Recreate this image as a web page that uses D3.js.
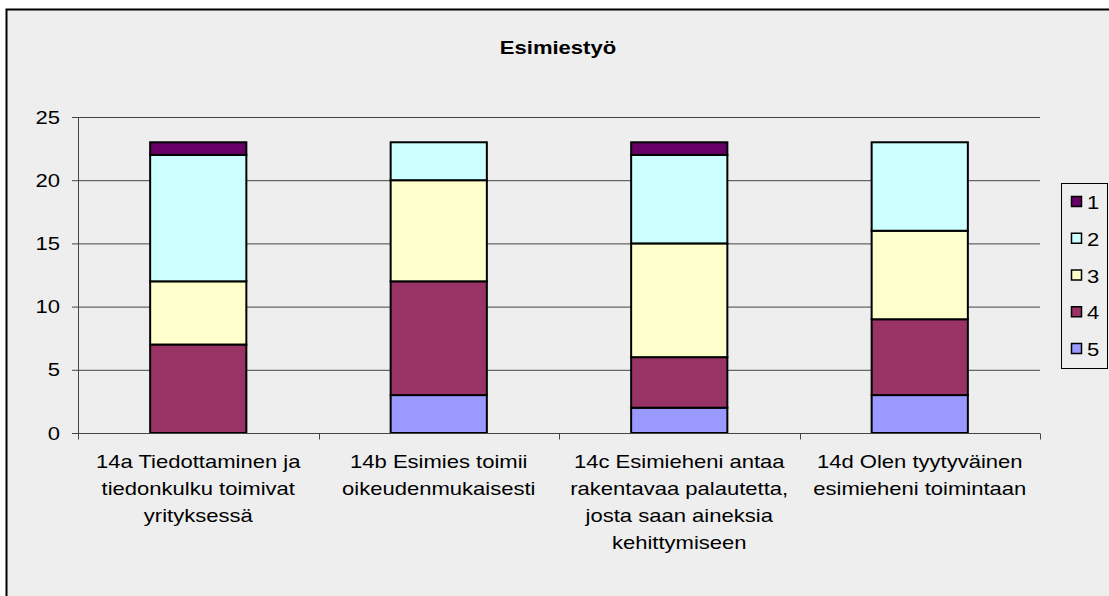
<!DOCTYPE html>
<html>
<head>
<meta charset="utf-8">
<script src="https://cdn.jsdelivr.net/npm/d3@7"></script>
<style>
  body { margin: 0; background: #fff; }
  text { font-family: "Liberation Sans", Arial, sans-serif; fill: #000; }
</style>
</head>
<body>
<svg id="chart" width="1109" height="596"></svg>
<script>
const categories = [
    ['14a Tiedottaminen ja', 'tiedonkulku toimivat', 'yrityksessä'],
    ['14b Esimies toimii', 'oikeudenmukaisesti'],
    ['14c Esimieheni antaa', 'rakentavaa palautetta,', 'josta saan aineksia', 'kehittymiseen'],
    ['14d Olen tyytyväinen', 'esimieheni toimintaan']
];
const seriesNames = ['5', '4', '3', '2', '1'];   // bottom to top
const values1 = [1, 0, 1, 0];
const values2 = [10, 3, 7, 7];
const values3 = [5, 8, 9, 7];
const values4 = [7, 9, 4, 6];
const values5 = [0, 3, 2, 3];
const colors = { '1': '#660066', '2': '#CCFFFF', '3': '#FFFFCC', '4': '#993366', '5': '#9999FF' };
const yTicks = [0, 5, 10, 15, 20, 25];
const title = 'Esimiestyö';

const stretchX = 1.16;  // the reference text is drawn wide
const svg = d3.select('#chart');

// chart frame
svg.append('rect')
    .attr('x', 6.5).attr('y', 9.5)
    .attr('width', 1200).attr('height', 700)
    .attr('fill', '#eeeeee')
    .attr('stroke', '#000').attr('stroke-width', 2);

const margin = { left: 78, top: 117, right: 1040, bottom: 433 };

const table = categories.map((c, i) => ({
    key: i,
    '1': values1[i], '2': values2[i], '3': values3[i], '4': values4[i], '5': values5[i]
}));

const stack = d3.stack().keys(seriesNames)(table);

const x = d3.scaleBand()
    .domain(d3.range(categories.length))
    .range([margin.left, margin.right])
    .paddingInner(0.6).paddingOuter(0.3);

const xOuter = d3.scaleBand()
    .domain(d3.range(categories.length))
    .range([margin.left, margin.right]);

const y = d3.scaleLinear().domain([0, 25]).range([margin.bottom, margin.top]);

// gridlines + y axis
const yAxis = svg.append('g')
    .attr('transform', `translate(${margin.left},0)`)
    .call(d3.axisLeft(y).tickValues(yTicks).tickSize(-(margin.right - margin.left)));
yAxis.select('.domain').remove();
yAxis.selectAll('.tick line').attr('stroke', '#444').attr('x1', -6);
yAxis.selectAll('.tick text')
    .attr('font-size', 19).attr('fill', '#000')
    .attr('x', 0)
    .attr('transform', `translate(-18,0) scale(${stretchX},1)`)
    .style('font-family', '"Liberation Sans", Arial, sans-serif');
svg.append('line')
    .attr('x1', margin.left + 0.5).attr('x2', margin.left + 0.5)
    .attr('y1', margin.top).attr('y2', margin.bottom + 6)
    .attr('stroke', '#444');

// bars
svg.append('g').selectAll('g').data(stack).join('g')
    .attr('fill', d => colors[d.key])
    .selectAll('rect').data(d => d.filter(s => s[1] > s[0])).join('rect')
        .attr('x', d => x(d.data.key))
        .attr('y', d => y(d[1]))
        .attr('width', x.bandwidth())
        .attr('height', d => y(d[0]) - y(d[1]))
        .attr('stroke', '#000')
        .attr('stroke-width', 2);

// x axis
const xAxisG = svg.append('g').attr('transform', `translate(0,${margin.bottom + 0.5})`);
xAxisG.append('line')
    .attr('x1', margin.left).attr('x2', margin.right)
    .attr('stroke', '#444');
xAxisG.selectAll('line.tick').data(d3.range(categories.length + 1)).join('line')
    .attr('class', 'tick')
    .attr('x1', i => Math.round(margin.left + i * xOuter.step()) + 0.5)
    .attr('x2', i => Math.round(margin.left + i * xOuter.step()) + 0.5)
    .attr('y1', 0).attr('y2', 6)
    .attr('stroke', '#444');

xAxisG.selectAll('text.cat').data(categories).join('text')
    .attr('class', 'cat')
    .attr('text-anchor', 'middle')
    .attr('font-size', 19)
    .attr('transform', (d, i) => `translate(${xOuter(i) + xOuter.bandwidth() / 2},0) scale(${stretchX},1)`)
    .selectAll('tspan').data(d => d).join('tspan')
        .attr('x', 0)
        .attr('y', (d, j) => 35 + j * 27)
        .text(d => d);

// title
svg.append('text')
    .attr('transform', `translate(558,54) scale(${stretchX},1)`)
    .attr('text-anchor', 'middle')
    .attr('font-size', 19).attr('font-weight', 'bold')
    .text(title);

// legend
const legend = svg.append('g');
legend.append('rect')
    .attr('x', 1061.5).attr('y', 183.5)
    .attr('width', 46).attr('height', 185)
    .attr('fill', '#eeeeee').attr('stroke', '#000');

const legendKeys = seriesNames.slice().reverse();
const ly = d3.scalePoint().domain(legendKeys).range([202, 349]);
legendKeys.forEach(k => {
    legend.append('rect')
        .attr('x', 1071.5).attr('y', ly(k) - 5.5)
        .attr('width', 10).attr('height', 10)
        .attr('fill', colors[k]).attr('stroke', '#000').attr('stroke-width', 1.5);
    legend.append('text')
        .attr('transform', `translate(1087,${ly(k) + 7}) scale(${stretchX},1)`)
        .attr('font-size', 19)
        .text(k);
});
</script>
</body>
</html>
